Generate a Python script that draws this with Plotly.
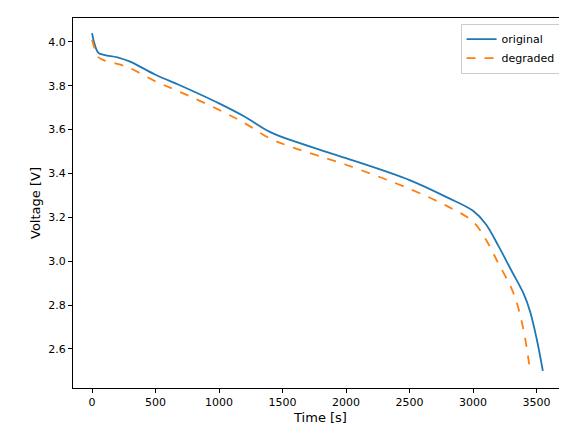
import plotly.graph_objects as go

t_orig = [0, 20, 50, 100, 200, 300, 500, 700, 1000, 1200, 1400, 1600, 2000, 2500, 2800, 3000, 3100, 3200, 3300, 3400, 3450, 3500, 3550]
v_orig = [4.04, 3.99, 3.95, 3.94, 3.93, 3.91, 3.85, 3.80, 3.72, 3.66, 3.59, 3.545, 3.47, 3.37, 3.29, 3.23, 3.17, 3.07, 2.96, 2.85, 2.77, 2.65, 2.50]
t_deg = [0, 20, 50, 100, 200, 300, 500, 700, 1000, 1200, 1400, 1600, 2000, 2500, 2800, 3000, 3100, 3200, 3300, 3350, 3400, 3450]
v_deg = [4.01, 3.97, 3.93, 3.915, 3.90, 3.88, 3.82, 3.77, 3.69, 3.63, 3.56, 3.515, 3.44, 3.33, 3.25, 3.18, 3.10, 2.99, 2.88, 2.80, 2.68, 2.50]

fig = go.Figure()
fig.add_trace(go.Scatter(x=t_orig, y=v_orig, mode="lines", name="original",
                         line=dict(color="#1f77b4", width=1.8, shape="spline")))
fig.add_trace(go.Scatter(x=t_deg, y=v_deg, mode="lines", name="degraded",
                         line=dict(color="#ff7f0e", width=1.8, dash="dash", shape="spline")))

ax = dict(showgrid=False, zeroline=False, showline=True, linecolor="black", mirror=True,
          ticks="outside", ticklen=4, tickcolor="black", automargin=False)
fig.update_layout(
    width=567, height=432, template="none",
    margin=dict(l=65, r=7, t=10, b=52, autoexpand=False),
    font=dict(family="DejaVu Sans", size=11, color="black"),
    xaxis=dict(ax, title=dict(text="Time [s]", standoff=4), range=[-150, 3748], dtick=500),
    yaxis=dict(ax, title=dict(text="Voltage [V]", standoff=4), range=[2.422, 4.109], dtick=0.2, tickformat=".1f"),
    legend=dict(x=0.985, y=0.985, xanchor="right", yanchor="top", bordercolor="#cccccc",
                borderwidth=1, bgcolor="white", font=dict(size=11)),
    plot_bgcolor="white", paper_bgcolor="white",
)
fig.write_html("out.html")
